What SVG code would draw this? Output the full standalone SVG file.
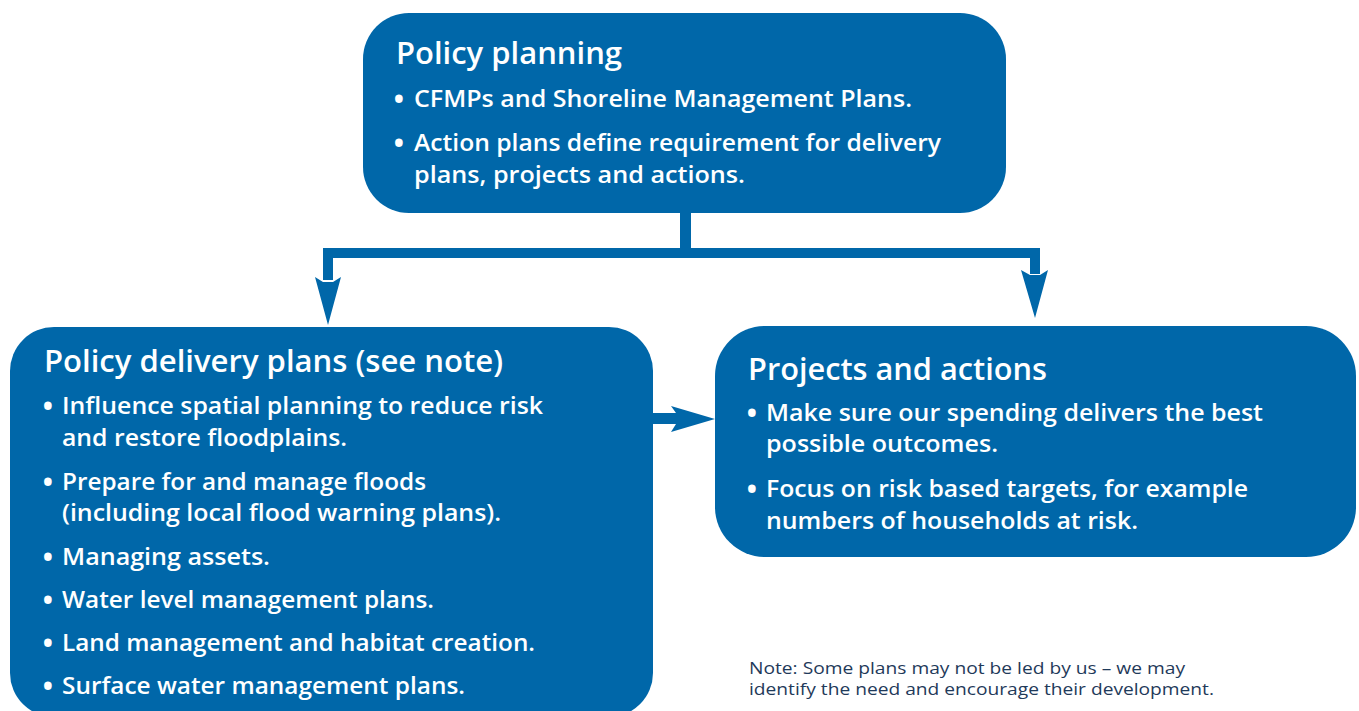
<svg xmlns="http://www.w3.org/2000/svg" width="1359" height="711" viewBox="0 0 1359 711">
<style>
.box{fill:#0067a9}
.conn{fill:#0067a9}
.t{font-family:"Open Sans","Noto Sans",sans-serif;fill:#ffffff;font-weight:600}
.h{font-size:31px}
.b{font-size:24px}
.dot{font-family:"Open Sans","Noto Sans",sans-serif;fill:#ffffff;font-size:31px;font-weight:600}
.note{font-family:"Open Sans","Noto Sans",sans-serif;font-size:17px;fill:#1f3a5a}
</style>
<rect width="1359" height="711" fill="#ffffff"/>
<g id="connectors">
<rect class="conn" x="680" y="210" width="11" height="40"/>
<rect class="conn" x="323" y="248" width="717" height="10"/>
<rect class="conn" x="323" y="248" width="10" height="32"/>
<polygon class="conn" points="315,277 323,282 333,282 341,277 328,325"/>
<rect class="conn" x="1030" y="248" width="10" height="26"/>
<polygon class="conn" points="1021,270 1030,275 1040,275 1048,270 1035,318"/>
<rect class="conn" x="650" y="413" width="28" height="11"/>
<polygon class="conn" points="671,406 715,419 671,432 676,424 676,413"/>
</g>
<g id="policy-planning">
<rect class="box" x="363" y="13" width="643" height="200" rx="46"/>
<text class="t h" x="396" y="64" textLength="226" lengthAdjust="spacingAndGlyphs">Policy planning</text>
<text class="dot" x="393" y="110">•</text>
<text class="t b" x="414" y="107" textLength="498" lengthAdjust="spacingAndGlyphs">CFMPs and Shoreline Management Plans.</text>
<text class="dot" x="393" y="154">•</text>
<text class="t b" x="414" y="151" textLength="527" lengthAdjust="spacingAndGlyphs">Action plans define requirement for delivery</text>
<text class="t b" x="414" y="183" textLength="331" lengthAdjust="spacingAndGlyphs">plans, projects and actions.</text>
</g>
<g id="policy-delivery-plans">
<rect class="box" x="10" y="327" width="643" height="390" rx="44"/>
<text class="t h" x="44" y="372" textLength="459" lengthAdjust="spacingAndGlyphs">Policy delivery plans (see note)</text>
<text class="dot" x="42" y="417">•</text>
<text class="t b" x="62" y="414" textLength="481" lengthAdjust="spacingAndGlyphs">Influence spatial planning to reduce risk</text>
<text class="t b" x="62" y="446" textLength="285" lengthAdjust="spacingAndGlyphs">and restore floodplains.</text>
<text class="dot" x="42" y="493">•</text>
<text class="t b" x="62" y="490" textLength="364" lengthAdjust="spacingAndGlyphs">Prepare for and manage floods</text>
<text class="t b" x="62" y="521" textLength="439" lengthAdjust="spacingAndGlyphs">(including local flood warning plans).</text>
<text class="dot" x="42" y="568">•</text>
<text class="t b" x="62" y="565" textLength="208" lengthAdjust="spacingAndGlyphs">Managing assets.</text>
<text class="dot" x="42" y="611">•</text>
<text class="t b" x="62" y="608" textLength="372" lengthAdjust="spacingAndGlyphs">Water level management plans.</text>
<text class="dot" x="42" y="654">•</text>
<text class="t b" x="62" y="651" textLength="473" lengthAdjust="spacingAndGlyphs">Land management and habitat creation.</text>
<text class="dot" x="42" y="697">•</text>
<text class="t b" x="62" y="694" textLength="403" lengthAdjust="spacingAndGlyphs">Surface water management plans.</text>
</g>
<g id="projects-and-actions">
<rect class="box" x="715" y="326" width="641" height="231" rx="50"/>
<text class="t h" x="748" y="380" textLength="299" lengthAdjust="spacingAndGlyphs">Projects and actions</text>
<text class="dot" x="746" y="424">•</text>
<text class="t b" x="766" y="421" textLength="497" lengthAdjust="spacingAndGlyphs">Make sure our spending delivers the best</text>
<text class="t b" x="766" y="452" textLength="232" lengthAdjust="spacingAndGlyphs">possible outcomes.</text>
<text class="dot" x="746" y="500">•</text>
<text class="t b" x="766" y="497" textLength="482" lengthAdjust="spacingAndGlyphs">Focus on risk based targets, for example</text>
<text class="t b" x="766" y="529" textLength="372" lengthAdjust="spacingAndGlyphs">numbers of households at risk.</text>
</g>
<g id="note">
<text class="note" x="749" y="674" textLength="436" lengthAdjust="spacingAndGlyphs">Note: Some plans may not be led by us – we may</text>
<text class="note" x="749" y="695" textLength="465" lengthAdjust="spacingAndGlyphs">identify the need and encourage their development.</text>
</g>
</svg>
